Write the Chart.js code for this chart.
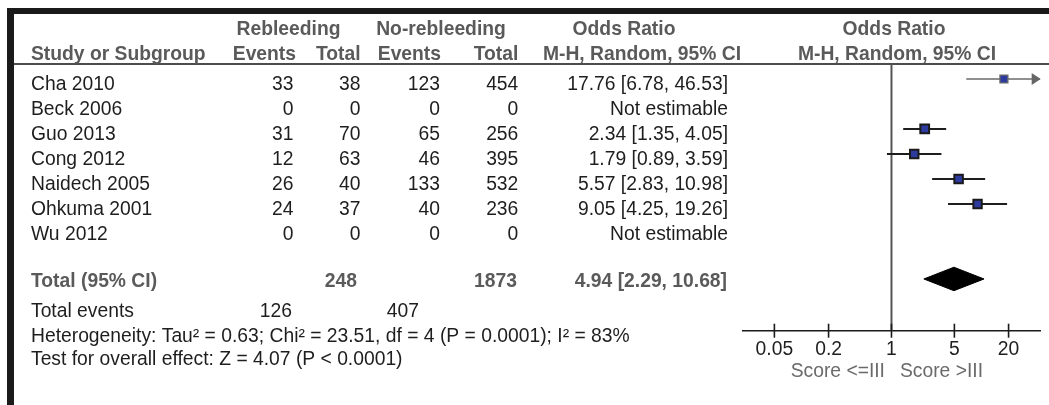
<!DOCTYPE html>
<html lang="en">
<head>
<meta charset="UTF-8">
<title>Forest plot - rebleeding</title>
<script src="https://cdn.jsdelivr.net/npm/chart.js@4.4.0/dist/chart.umd.min.js"></script>
<style>
  html, body { margin: 0; padding: 0; background: #fff; }
  #wrap { width: 1049px; height: 405px; position: relative; }
</style>
</head>
<body>
<div id="wrap"><canvas id="forest"></canvas></div>
<script>
// study rows
const studies = ['Cha 2010', 'Beck 2006', 'Guo 2013', 'Cong 2012', 'Naidech 2005', 'Ohkuma 2001', 'Wu 2012'];
const rebleedEvents = [33, 0, 31, 12, 26, 24, 0];
const rebleedTotal = [38, 0, 70, 63, 40, 37, 0];
const noRebleedEvents = [123, 0, 65, 46, 133, 40, 0];
const noRebleedTotal = [454, 0, 256, 395, 532, 236, 0];
const oddsRatio = [17.76, null, 2.34, 1.79, 5.57, 9.05, null];
const ciLow = [6.78, null, 1.35, 0.89, 2.83, 4.25, null];
const ciHigh = [46.53, null, 4.05, 3.59, 10.98, 19.26, null];
const weights = [17.7, null, 21.7, 20.3, 20.5, 19.8, null];

// pooled result
const totalOR = 4.94;
const totalCI = [2.29, 10.68];
const totalN = [248, 1873];
const totalEvents = [126, 407];
const heterogeneity = 'Heterogeneity: Tau\u00b2 = 0.63; Chi\u00b2 = 23.51, df = 4 (P = 0.0001); I\u00b2 = 83%';
const overallEffect = 'Test for overall effect: Z = 4.07 (P < 0.0001)';

// axis
const tickValues = [0.05, 0.2, 1, 5, 20];
const tickLabels = ['0.05', '0.2', '1', '5', '20'];
const favoursLeft = 'Score <=III';
const favoursRight = 'Score >III';

const X_MIN = 0.0224, X_MAX = 44.7;
const Y_MIN = -0.6, Y_MAX = 10.07;
const TOTAL_ROW = 8;
const DIAMOND_H = 0.47;

const FONT = '"Liberation Sans", Arial, Helvetica, sans-serif';
const SIZE = 19.3;
const GREY = '#5a5a5a';
const INK = '#1e1e1e';

function fmt(v) { return v.toFixed(2); }
function orText(i) {
  if (oddsRatio[i] === null) return 'Not estimable';
  return fmt(oddsRatio[i]) + ' [' + fmt(ciLow[i]) + ', ' + fmt(ciHigh[i]) + ']';
}

const rows = studies.map((_, i) => i).filter(i => oddsRatio[i] !== null);

const ciSets = rows.map(i => ({
  data: [{ x: ciLow[i], y: i }, { x: ciHigh[i], y: i }],
  showLine: true,
  borderColor: ciHigh[i] > X_MAX ? '#6a6a6a' : INK,
  borderWidth: ciHigh[i] > X_MAX ? 1.5 : 2,
  pointRadius: 0
}));

const tableText = {
  id: 'tableText',
  beforeDraw(chart) {
    const { ctx, width, height } = chart;
    ctx.save();
    ctx.fillStyle = '#fff';
    ctx.fillRect(0, 0, width, height);
    ctx.fillStyle = '#1a1a1a';
    ctx.fillRect(7, 8, width - 7, 6);
    ctx.fillRect(7, 8, 7, height - 8);
    ctx.fillStyle = '#222';
    ctx.fillRect(14, 63.2, width - 14, 1.6);
    ctx.restore();
  },
  afterDraw(chart) {
    const { ctx } = chart;
    const xs = chart.scales.x, ys = chart.scales.y;
    const base = r => ys.getPixelForValue(r) + 11;
    const put = (txt, x, y, align, bold, color) => {
      ctx.font = (bold ? 'bold ' : '') + SIZE + 'px ' + FONT;
      ctx.textAlign = align;
      ctx.fillStyle = color || INK;
      ctx.fillText(txt, x, y);
    };
    ctx.save();
    ctx.textBaseline = 'alphabetic';

    // headers
    const h1 = base(-2.2), h2 = base(-1.2);
    put('Rebleeding', 288.5, h1, 'center', true, GREY);
    put('No-rebleeding', 441, h1, 'center', true, GREY);
    put('Odds Ratio', 624, h1, 'center', true, GREY);
    put('Odds Ratio', 894, h1, 'center', true, GREY);
    put('Study or Subgroup', 31, h2, 'left', true, GREY);
    put('Events', 296, h2, 'right', true, GREY);
    put('Total', 360.5, h2, 'right', true, GREY);
    put('Events', 441, h2, 'right', true, GREY);
    put('Total', 518.3, h2, 'right', true, GREY);
    put('M-H, Random, 95% CI', 642, h2, 'center', true, GREY);
    put('M-H, Random, 95% CI', 897, h2, 'center', true, GREY);

    // study rows
    studies.forEach((name, i) => {
      const y = base(i);
      put(name, 31, y, 'left');
      put(String(rebleedEvents[i]), 293.5, y, 'right');
      put(String(rebleedTotal[i]), 360.5, y, 'right');
      put(String(noRebleedEvents[i]), 440, y, 'right');
      put(String(noRebleedTotal[i]), 518.3, y, 'right');
      put(orText(i), 728, y, 'right');
    });

    // total
    const yt = base(7.88);
    put('Total (95% CI)', 31, yt, 'left', true, GREY);
    put(String(totalN[0]), 357, yt, 'right', true, GREY);
    put(String(totalN[1]), 517, yt, 'right', true, GREY);
    put(fmt(totalOR) + ' [' + fmt(totalCI[0]) + ', ' + fmt(totalCI[1]) + ']', 727, yt, 'right', true, GREY);

    const ye = base(9.07);
    put('Total events', 31, ye, 'left');
    put(String(totalEvents[0]), 292, ye, 'right');
    put(String(totalEvents[1]), 419, ye, 'right');
    put(heterogeneity, 31, base(10.07), 'left');
    put(overallEffect, 31, base(11.0), 'left');

    // favours labels under the axis
    const one = xs.getPixelForValue(1);
    put(favoursLeft, one - 6.5, base(11.47), 'right', false, '#6a6a6a');
    put(favoursRight, one + 8.5, base(11.47), 'left', false, '#6a6a6a');

    // tick marks crossing the axis
    ctx.strokeStyle = '#1a1a1a';
    ctx.lineWidth = 1.6;
    xs.ticks.forEach(t => {
      const px = xs.getPixelForValue(t.value);
      ctx.beginPath();
      ctx.moveTo(px, xs.top - 7);
      ctx.lineTo(px, xs.top + 7);
      ctx.stroke();
    });

    // arrows for intervals running off the scale
    ctx.fillStyle = '#666';
    rows.forEach(i => {
      if (ciHigh[i] <= X_MAX) return;
      const py = ys.getPixelForValue(i);
      const tip = xs.right + 0.7;
      ctx.beginPath();
      ctx.moveTo(tip, py);
      ctx.lineTo(tip - 9, py - 6);
      ctx.lineTo(tip - 9, py + 6);
      ctx.closePath();
      ctx.fill();
    });
    ctx.restore();
  }
};

new Chart(document.getElementById('forest'), {
  type: 'scatter',
  data: {
    datasets: [
      {
        data: rows.map(i => ({ x: oddsRatio[i], y: i })),
        pointStyle: 'rect',
        pointRadius: rows.map(i => 1.33 * Math.sqrt(weights[i])),
        pointHoverRadius: rows.map(i => 1.33 * Math.sqrt(weights[i])),
        backgroundColor: '#2d3a9e',
        borderColor: rows.map(i => ciHigh[i] > X_MAX ? '#6a6a6a' : '#1a1a1a'),
        borderWidth: rows.map(i => ciHigh[i] > X_MAX ? 1.3 : 2)
      },
      ...ciSets,
      {
        data: [{ x: 1, y: Y_MIN }, { x: 1, y: Y_MAX }],
        showLine: true,
        borderColor: '#555',
        borderWidth: 2,
        pointRadius: 0
      },
      {
        data: [{ x: totalCI[0], y: TOTAL_ROW }, { x: totalOR, y: TOTAL_ROW - DIAMOND_H }, { x: totalCI[1], y: TOTAL_ROW }],
        showLine: true,
        fill: '+1',
        backgroundColor: '#000',
        borderColor: '#000',
        borderWidth: 1,
        pointRadius: 0
      },
      {
        data: [{ x: totalCI[0], y: TOTAL_ROW }, { x: totalOR, y: TOTAL_ROW + DIAMOND_H }, { x: totalCI[1], y: TOTAL_ROW }],
        showLine: true,
        fill: false,
        borderColor: '#000',
        borderWidth: 1,
        pointRadius: 0
      }
    ]
  },
  options: {
    responsive: true,
    maintainAspectRatio: false,
    animation: false,
    events: [],
    layout: { padding: { left: 743, right: 9, top: 64, bottom: 0 } },
    plugins: { legend: { display: false }, tooltip: { enabled: false } },
    scales: {
      x: {
        type: 'logarithmic',
        min: X_MIN,
        max: X_MAX,
        afterBuildTicks: s => { s.ticks = tickValues.map(v => ({ value: v })); },
        afterFit: s => { s.height = 74.3; },
        grid: { display: false, drawTicks: false },
        border: { display: true, color: '#1a1a1a', width: 1.6 },
        ticks: {
          autoSkip: false,
          maxRotation: 0,
          padding: 7.5,
          color: INK,
          font: { family: FONT, size: SIZE },
          callback: (v, i) => tickLabels[i]
        }
      },
      y: {
        type: 'linear',
        reverse: true,
        min: Y_MIN,
        max: Y_MAX,
        display: false
      }
    }
  },
  plugins: [tableText]
});
</script>
</body>
</html>
